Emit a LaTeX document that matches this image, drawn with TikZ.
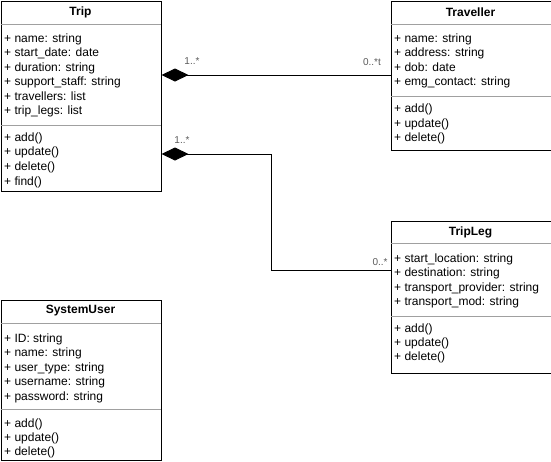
\documentclass[tikz,border=0pt]{standalone}
\usepackage{fontspec}
\setmainfont{Liberation Sans}
\usetikzlibrary{arrows.meta,calc}

\definecolor{sepgray}{HTML}{A0A0A0}
\definecolor{labelgray}{HTML}{5A5A5A}

\tikzset{
  classbox/.style={draw=black, line width=1pt, fill=white, rectangle,
    anchor=north west, inner sep=0pt},
  classtitle/.style={font=\bfseries\fontsize{12}{14}\selectfont, anchor=center, inner sep=0pt},
  member/.style={font=\fontsize{12}{14}\selectfont, anchor=base west, inner sep=0pt},
  sepline/.style={draw=sepgray, line width=1pt},
  assoc/.style={draw=black, line width=1pt,
    {Diamond[length=27pt,width=13pt,fill=black]}-},
  multlabel/.style={font=\fontsize{10}{12}\selectfont, text=labelgray, inner sep=0pt, anchor=center}
}

\begin{document}
\begin{tikzpicture}[x=1pt,y=-1pt]
  \useasboundingbox (0,0) rectangle (551,461);

  % ---------- Trip ----------
  \node[classbox, minimum width=160pt, minimum height=190pt] (trip) at (0.5,0.5) {};
  \node[classtitle] (tripT) at (80.5,12) {Trip};
  \draw[sepline] (0.5,24) -- (160.5,24);
  \draw[sepline] (0.5,125) -- (160.5,125);
  \foreach \t/\b [count=\i] in {{+ name: string}/42, {+ start\_date: date}/56.5,
      {+ duration: string}/71, {+ support\_staff: string}/85.5,
      {+ travellers: list}/100, {+ trip\_legs: list}/114.5,
      {+ add()}/141, {+ update()}/155.5, {+ delete()}/170, {+ find()}/185}
    \node[member] (tripM\i) at (4,\b) {\t};

  % ---------- Traveller ----------
  \node[classbox, minimum width=160pt, minimum height=149pt] (traveller) at (390.5,0.5) {};
  \node[classtitle] (travellerT) at (470.5,12) {Traveller};
  \draw[sepline] (390.5,24) -- (550.5,24);
  \draw[sepline] (390.5,96) -- (550.5,96);
  \foreach \t/\b [count=\i] in {{+ name: string}/42, {+ address: string}/56.5,
      {+ dob: date}/71, {+ emg\_contact: string}/85.5,
      {+ add()}/112.5, {+ update()}/127, {+ delete()}/141.5}
    \node[member] (travellerM\i) at (394,\b) {\t};

  % ---------- TripLeg ----------
  \node[classbox, minimum width=160pt, minimum height=152pt] (tripleg) at (390.5,220.5) {};
  \node[classtitle] (triplegT) at (470.5,232) {TripLeg};
  \draw[sepline] (390.5,243) -- (550.5,243);
  \draw[sepline] (390.5,316) -- (550.5,316);
  \foreach \t/\b [count=\i] in {{+ start\_location: string}/262.3, {+ destination: string}/276.7,
      {+ transport\_provider: string}/291.3, {+ transport\_mod: string}/305.3,
      {+ add()}/332.3, {+ update()}/346.7, {+ delete()}/360.7}
    \node[member] (triplegM\i) at (394,\b) {\t};

  % ---------- SystemUser ----------
  \node[classbox, minimum width=160pt, minimum height=160pt] (sysuser) at (0.5,300) {};
  \node[classtitle] (sysuserT) at (80.5,311) {SystemUser};
  \draw[sepline] (0.5,323) -- (160.5,323);
  \draw[sepline] (0.5,409) -- (160.5,409);
  \foreach \t/\b [count=\i] in {{+ ID: string}/342.3, {+ name: string}/356.7,
      {+ user\_type: string}/371.3, {+ username: string}/385.3,
      {+ password: string}/400,
      {+ add()}/427.3, {+ update()}/441.7, {+ delete()}/455.7}
    \node[member] (sysuserM\i) at (4,\b) {\t};

  % ---------- Associations ----------
  \coordinate (tripA) at ($(trip.north east)+(0,74.5)$);
  \coordinate (tripB) at ($(trip.north east)+(0,153.5)$);
  \coordinate (triplegIn) at ($(tripleg.north west)+(0,49.5)$);

  \draw[assoc] (tripA) -- (traveller.west |- tripA);
  \draw[assoc] (tripB) -- ++(110,0) |- (triplegIn);

  \node[multlabel] (mA1) at (192,61) {1..*};
  \node[multlabel] (mA2) at (372,62) {0..*t};
  \node[multlabel] (mB1) at (182,140) {1..*};
  \node[multlabel] (mB2) at (380,262) {0..*};
\end{tikzpicture}
\end{document}
